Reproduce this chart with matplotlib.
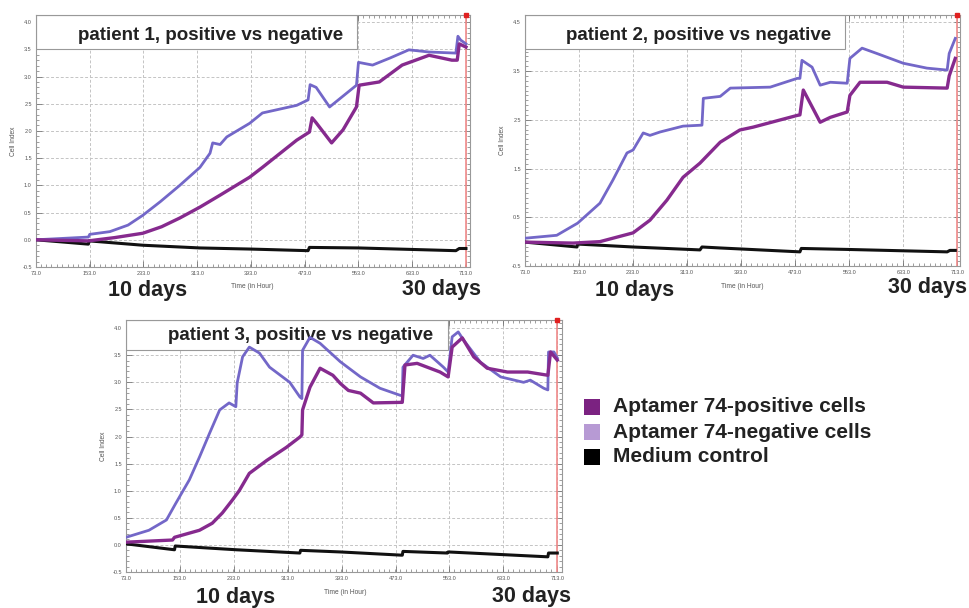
import numpy as np
import matplotlib.pyplot as plt
from matplotlib.patches import Rectangle
from matplotlib.ticker import MultipleLocator, FormatStrFormatter

plt.rcParams['font.family'] = ['Liberation Sans', 'DejaVu Sans']

# ---- data (time in hours, cell index) ----
# patient 1
p1_pos_t = [73, 151, 190, 232, 260, 287, 317, 347, 391, 410, 461, 480, 484, 490, 513, 530, 550, 554, 584, 618, 658, 692, 700, 703, 713]
p1_pos_v = [0.0, -0.02, 0.04, 0.12, 0.24, 0.4, 0.6, 0.82, 1.15, 1.33, 1.83, 1.98, 2.24, 2.15, 1.78, 2.02, 2.44, 2.84, 2.9, 3.21, 3.39, 3.3, 3.3, 3.6, 3.54]
p1_neg_t = [73, 151, 153, 183, 210, 232, 258, 287, 317, 332, 336, 347, 357, 391, 410, 461, 478, 481, 490, 510, 550, 553, 574, 600, 628, 658, 698, 701, 705, 713]
p1_neg_v = [0.0, 0.05, 0.1, 0.15, 0.27, 0.45, 0.7, 1.0, 1.33, 1.59, 1.78, 1.75, 1.89, 2.14, 2.33, 2.47, 2.57, 2.85, 2.8, 2.44, 2.84, 3.26, 3.21, 3.34, 3.49, 3.45, 3.43, 3.74, 3.67, 3.6]
p1_ctl_t = [73, 151, 152, 232, 317, 391, 478, 480, 553, 698, 703, 713]
p1_ctl_v = [0.0, -0.08, -0.02, -0.1, -0.15, -0.17, -0.2, -0.14, -0.15, -0.2, -0.16, -0.16]

# patient 2
p2_pos_t = [73, 144, 184, 233, 258, 283, 307, 332, 362, 391, 411, 476, 480, 485, 510, 525, 550, 554, 569, 609, 633, 698, 701, 710]
p2_pos_v = [-0.01, -0.03, 0.0, 0.18, 0.44, 0.85, 1.32, 1.61, 2.04, 2.29, 2.35, 2.59, 2.6, 3.11, 2.45, 2.55, 2.66, 3.0, 3.27, 3.27, 3.17, 3.15, 3.4, 3.76]
p2_neg_t = [73, 120, 151, 184, 203, 224, 233, 248, 258, 273, 307, 335, 337, 362, 377, 436, 476, 480, 483, 498, 510, 525, 550, 554, 572, 594, 633, 668, 698, 701, 710]
p2_neg_v = [0.07, 0.13, 0.38, 0.79, 1.26, 1.82, 1.88, 2.23, 2.18, 2.25, 2.37, 2.39, 2.94, 2.98, 3.15, 3.17, 3.35, 3.35, 3.72, 3.58, 3.21, 3.27, 3.25, 3.76, 3.97, 3.86, 3.66, 3.56, 3.52, 3.86, 4.17]
p2_ctl_t = [73, 150, 151, 233, 332, 335, 362, 480, 482, 550, 698, 702, 710]
p2_ctl_v = [-0.01, -0.11, -0.05, -0.11, -0.17, -0.11, -0.13, -0.21, -0.14, -0.16, -0.21, -0.18, -0.18]

# patient 3
p3_pos_t = [73, 142, 145, 182, 201, 216, 231, 241, 256, 282, 311, 331, 334, 335, 346, 361, 380, 391, 403, 421, 440, 480, 483, 487, 505, 539, 551, 557, 572, 589, 609, 639, 669, 699, 703, 713]
p3_pos_v = [0.05, 0.09, 0.14, 0.27, 0.4, 0.59, 0.83, 1.0, 1.32, 1.56, 1.8, 1.99, 2.03, 2.49, 2.91, 3.26, 3.13, 2.98, 2.85, 2.8, 2.62, 2.63, 2.63, 3.32, 3.35, 3.19, 3.1, 3.65, 3.82, 3.47, 3.26, 3.19, 3.19, 3.13, 3.56, 3.41]
p3_neg_t = [73, 107, 133, 147, 167, 182, 197, 212, 226, 236, 238, 246, 256, 271, 286, 316, 331, 334, 335, 346, 361, 391, 421, 450, 480, 483, 484, 499, 514, 524, 544, 551, 557, 566, 574, 599, 629, 663, 673, 693, 699, 700, 708, 713]
p3_neg_v = [0.14, 0.27, 0.46, 0.77, 1.2, 1.62, 2.06, 2.49, 2.62, 2.55, 2.99, 3.47, 3.65, 3.54, 3.28, 3.0, 2.73, 2.7, 3.59, 3.83, 3.72, 3.38, 3.1, 2.89, 2.76, 2.75, 3.28, 3.5, 3.44, 3.5, 3.28, 3.19, 3.84, 3.93, 3.78, 3.37, 3.1, 3.0, 3.04, 2.89, 2.86, 3.56, 3.56, 3.45]
p3_ctl_t = [73, 145, 146, 237, 331, 332, 391, 483, 484, 550, 551, 699, 700, 713]
p3_ctl_v = [0.02, -0.09, -0.02, -0.09, -0.15, -0.1, -0.13, -0.19, -0.12, -0.15, -0.13, -0.22, -0.15, -0.15]

x_ticks = [73, 153, 233, 313, 393, 473, 553, 633, 713]
legend_labels = ['Aptamer 74-positive cells', 'Aptamer 74-negative cells', 'Medium control']
legend_colors = ['#7b2281', '#b79ad4', '#000000']

line_pos = '#862a8e'
line_neg = '#7367c8'
line_ctl = '#111111'

W, H = 969, 608
fig = plt.figure(figsize=(W / 100, H / 100), dpi=100)


def panel(px, ylim, ystep, yfirst, xlim, pos, neg, ctl, title, title_px, box_px):
    left, top, right, bottom = px
    ax = fig.add_axes([left / W, 1 - bottom / H, (right - left) / W, (bottom - top) / H])
    ax.set_xlim(*xlim)
    ax.set_ylim(*ylim)
    ax.set_xticks(x_ticks)
    ax.set_yticks(np.arange(yfirst, ylim[1] + 0.01, ystep))
    ax.xaxis.set_major_formatter(FormatStrFormatter('%.1f'))
    ax.yaxis.set_major_formatter(FormatStrFormatter('%.1f'))
    ax.xaxis.set_minor_locator(MultipleLocator(8))
    ax.yaxis.set_minor_locator(MultipleLocator(0.1))
    ax.tick_params(which='both', direction='in', top=True, right=True, colors='#777',
                   labelsize=4, labelcolor='#555', pad=3)
    ax.tick_params(which='major', length=4, width=0.6)
    ax.tick_params(which='minor', length=2, width=0.5)
    for s in ax.spines.values():
        s.set_color('#999')
        s.set_linewidth(0.8)
    ax.set_axisbelow(True)
    ax.grid(True, which='major', ls=(0, (3, 2)), color='#c4c4c4', lw=0.7)
    ax.set_ylabel('Cell Index', fontsize=4.8, color='#555', labelpad=4)

    ax.plot(ctl[0], ctl[1], color=line_ctl, lw=2.2, zorder=3)
    ax.plot(neg[0], neg[1], color=line_neg, lw=2.0, zorder=4)
    ax.plot(pos[0], pos[1], color=line_pos, lw=2.4, zorder=5)

    ax.axvline(713, color='#f08a8a', lw=1.2, zorder=2)
    ax.plot([713], [ylim[1]], 's', color='#e02020', ms=3, clip_on=False, zorder=6)

    # title box
    bx_r, bx_b = box_px
    bw = (bx_r - left) / (right - left)
    bh = (bottom - bx_b) / (bottom - top)
    ax.add_patch(Rectangle((0, bh), bw, 1 - bh, transform=ax.transAxes,
                           facecolor='white', edgecolor='#999', lw=0.8, zorder=1.5))
    tx, ty = title_px
    ax.text((tx - left) / (right - left), (bottom - ty) / (bottom - top), title,
            transform=ax.transAxes, ha='center', va='center', fontsize=13.5,
            fontweight='bold', color='#222', zorder=1.6)
    return ax


panel((36, 15, 470, 267), (-0.5, 4.13), 0.5, -0.5, (73, 719),
      (p1_pos_t, p1_pos_v), (p1_neg_t, p1_neg_v), (p1_ctl_t, p1_ctl_v),
      'patient 1, positive vs negative', (211, 35), (357, 49))
panel((525, 15, 960, 266), (-0.5, 4.65), 1.0, -0.5, (73, 717),
      (p2_pos_t, p2_pos_v), (p2_neg_t, p2_neg_v), (p2_ctl_t, p2_ctl_v),
      'patient 2, positive vs negative', (699, 35), (845, 49))
panel((126, 320, 562, 572), (-0.5, 4.15), 0.5, -0.5, (73, 720),
      (p3_pos_t, p3_pos_v), (p3_neg_t, p3_neg_v), (p3_ctl_t, p3_ctl_v),
      'patient 3, positive vs negative', (301, 335), (448, 350))


def ftext(x, y, s, **kw):
    fig.text(x / W, 1 - y / H, s, **kw)


big = dict(fontsize=15.5, fontweight='bold', color='#222', ha='center', va='baseline')
ftext(148, 296, '10 days', **big)
ftext(441, 295, '30 days', **big)
ftext(635, 296, '10 days', **big)
ftext(927, 293, '30 days', **big)
ftext(236, 603, '10 days', **big)
ftext(531, 602, '30 days', **big)

small = dict(fontsize=4.8, color='#555', ha='center', va='center')
ftext(252, 287, 'Time (in Hour)', **small)
ftext(742, 287, 'Time (in Hour)', **small)
ftext(345, 593, 'Time (in Hour)', **small)

# legend
for i, (lab, col) in enumerate(zip(legend_labels, legend_colors)):
    yc = 407 + i * 25
    fig.add_artist(Rectangle((584 / W, 1 - (yc + 8) / H), 16 / W, 16 / H,
                             transform=fig.transFigure, facecolor=col, edgecolor='none'))
    ftext(613, yc, lab, fontsize=15, fontweight='bold', color='#222', ha='left', va='center')

fig.savefig('out.png', dpi=100)
